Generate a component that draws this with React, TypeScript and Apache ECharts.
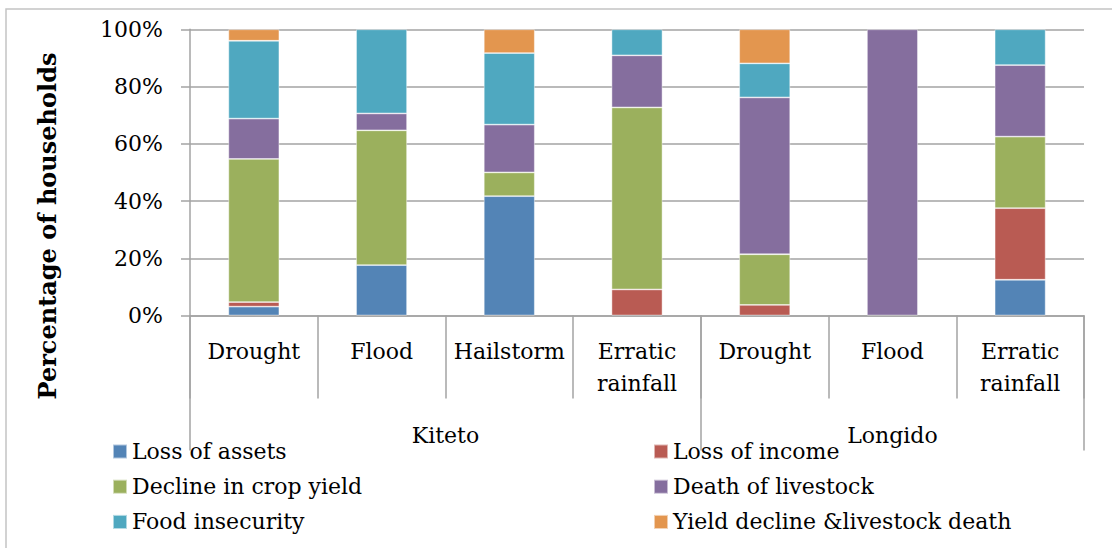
import React, { useEffect, useRef } from "react";
import * as echarts from "echarts";

const districts = ["Kiteto", "Longido"];
const hazardsByDistrict = [
  ["Drought", "Flood", "Hailstorm", "Erratic\nrainfall"],
  ["Drought", "Flood", "Erratic\nrainfall"],
];
const seriesNames = [
  "Loss of assets",
  "Loss of income",
  "Decline in crop yield",
  "Death of livestock",
  "Food insecurity",
  "Yield decline &livestock death",
];
const colors = ["#5384b6", "#b95b53", "#9bb05d", "#856e9e", "#4fa8c0", "#e3964f"];

// order: Kiteto Drought, Flood, Hailstorm, Erratic rainfall, Longido Drought, Flood, Erratic rainfall
const lossOfAssets = [3.1, 17.6, 41.7, 0, 0, 0, 12.5];
const lossOfIncome = [1.6, 0, 0, 9.1, 3.7, 0, 25];
const declineInCropYield = [50, 47.1, 8.3, 63.6, 17.7, 0, 25];
const deathOfLivestock = [14.1, 5.9, 16.7, 18.2, 54.8, 100, 25];
const foodInsecurity = [27.2, 29.4, 25, 9.1, 11.9, 0, 12.5];
const yieldDeclineLivestockDeath = [4.0, 0, 8.3, 0, 11.9, 0, 0];

const yTicks = [0, 20, 40, 60, 80, 100];

const FONT = "DejaVu Serif";
const GRAY = "#a3a3a3";

export default function App() {
  const ref = useRef<HTMLDivElement>(null);
  useEffect(() => {
    if (!ref.current) return;
    const chart = echarts.init(ref.current, undefined, { renderer: "svg" });

    const categories: string[] = [];
    const groupBounds: number[] = [0];
    const groupCenters: number[] = [];
    hazardsByDistrict.forEach((hs, gi) => {
      const start = categories.length;
      hs.forEach((h) => categories.push(districts[gi] + "|" + h));
      groupBounds.push(categories.length);
      groupCenters.push((start + categories.length) / 2);
    });

    const allValues = [
      lossOfAssets,
      lossOfIncome,
      declineInCropYield,
      deathOfLivestock,
      foodInsecurity,
      yieldDeclineLivestockDeath,
    ];

    const series = seriesNames.map((name, i) => ({
      name,
      type: "bar",
      stack: "total",
      xAxisIndex: 0,
      yAxisIndex: 0,
      barWidth: 51,
      itemStyle: { color: colors[i], borderColor: "rgba(255,255,255,0.55)", borderWidth: 0.8 },
      data: allValues[i].map((v) => (v === 0 ? null : v)),
    }));

    const legendText = { fontFamily: FONT, fontSize: 22, color: "#000", lineHeight: 22 };

    chart.setOption({
      animation: false,
      backgroundColor: "#fff",
      grid: {
        left: 190,
        right: 28,
        top: 29.3,
        bottom: 232.5,
        containLabel: false,
        outerBoundsMode: "none",
      },
      legend: [
        {
          data: [seriesNames[0], seriesNames[2], seriesNames[4]],
          orient: "vertical",
          left: 112,
          top: 440.5,
          itemWidth: 14,
          itemHeight: 14,
          itemGap: 13.2,
          icon: "rect",
          padding: 0,
          textStyle: legendText,
          selectedMode: false,
        },
        {
          data: [seriesNames[1], seriesNames[3], seriesNames[5]],
          orient: "vertical",
          left: 653,
          top: 440.5,
          itemWidth: 14,
          itemHeight: 14,
          itemGap: 13.2,
          icon: "rect",
          padding: 0,
          textStyle: legendText,
          selectedMode: false,
        },
      ],
      xAxis: [
        {
          type: "category",
          data: categories,
          position: "bottom",
          boundaryGap: true,
          axisLine: { show: true, lineStyle: { color: GRAY, width: 1.5 } },
          axisTick: { show: true, interval: 0, length: 83, alignWithLabel: false, lineStyle: { color: GRAY, width: 1.5 } },
          axisLabel: {
            interval: 0,
            margin: 20,
            fontFamily: FONT,
            fontSize: 22,
            lineHeight: 32,
            color: "#000",
            formatter: (v: string) => v.split("|")[1],
          },
          splitLine: { show: false },
        },
        {
          type: "value",
          gridIndex: 0,
          position: "bottom",
          min: 0,
          max: categories.length,
          axisLine: { show: false },
          splitLine: { show: false },
          axisTick: {
            show: true,
            length: 135,
            customValues: groupBounds,
            lineStyle: { color: GRAY, width: 1.5 },
          },
          axisLabel: {
            show: true,
            margin: 109,
            customValues: groupCenters,
            fontFamily: FONT,
            fontSize: 22,
            lineHeight: 22,
            color: "#000",
            formatter: (v: number) => {
              const idx = groupCenters.findIndex((c) => Math.abs(c - v) < 1e-6);
              return idx >= 0 ? districts[idx] : "";
            },
          },
        },
      ],
      yAxis: {
        type: "value",
        min: 0,
        max: 100,
        interval: 20,
        axisLine: { show: true, lineStyle: { color: GRAY, width: 1.5 } },
        axisTick: { show: true, length: 9, lineStyle: { color: GRAY, width: 1.5 } },
        splitLine: { show: true, lineStyle: { color: GRAY, width: 1.5 } },
        axisLabel: {
          margin: 27,
          fontFamily: FONT,
          fontSize: 22,
          color: "#000",
          padding: [10, 0, 0, 0],
          formatter: (v: number) => (yTicks.includes(v) ? v + "%" : ""),
        },
      },
      graphic: [
        {
          type: "rect",
          silent: true,
          z: -1,
          shape: { x: 6, y: 9, width: 1200, height: 600 },
          style: { fill: "none", stroke: "#c4c4c4", lineWidth: 1.5 },
        },
        {
          type: "text",
          x: 47,
          y: 226,
          rotation: Math.PI / 2,
          style: {
            text: "Percentage of households",
            fontFamily: FONT,
            fontWeight: "bold",
            fontSize: 24,
            fill: "#000",
            align: "center",
            verticalAlign: "middle",
          },
        },
      ],
      series,
    });

    return () => chart.dispose();
  }, []);

  return (
    <div
      ref={ref}
      style={{ position: "fixed", left: 0, top: 0, width: 1112, height: 548 }}
    />
  );
}
